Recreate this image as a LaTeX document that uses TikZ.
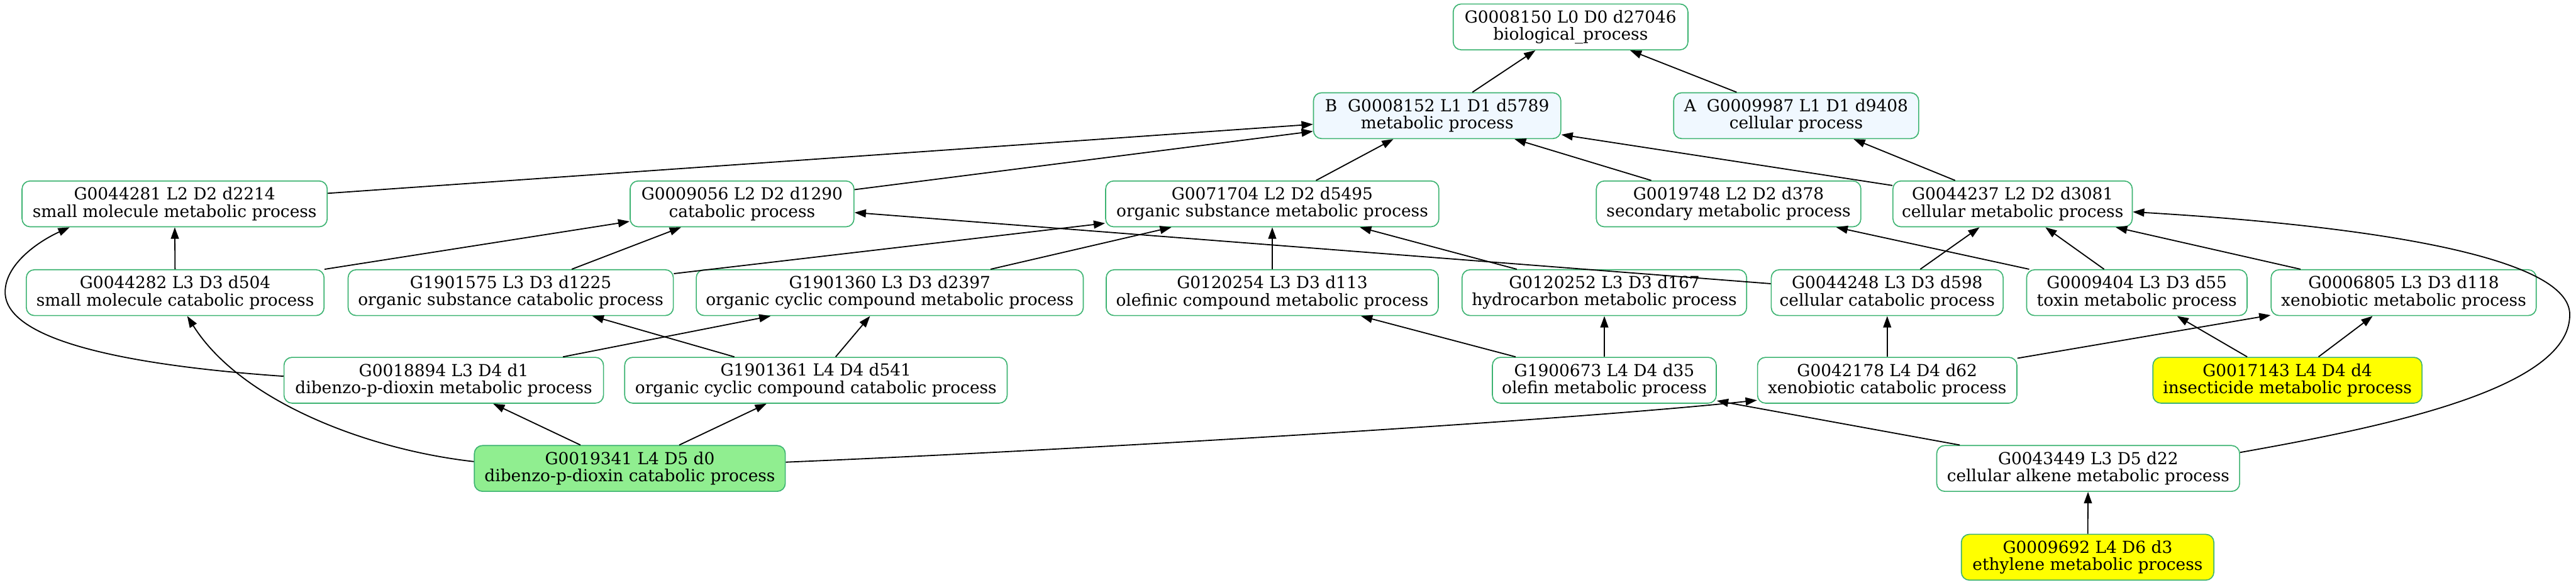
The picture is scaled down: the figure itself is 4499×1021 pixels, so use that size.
\documentclass[tikz,border=0pt]{standalone}
\usepackage{fontspec}
\newfontfamily\gofont{DejaVu Serif}
\usetikzlibrary{arrows.meta}
\definecolor{bordergreen}{HTML}{3CB371}
\definecolor{aliceblue}{HTML}{F0F8FF}
\definecolor{lgreen}{HTML}{90EE90}
\definecolor{yel}{HTML}{FFFF00}
\tikzset{
  gnode/.style={draw=bordergreen, line width=0.9pt, rounded corners=7pt,
    minimum height=40pt, inner sep=0pt, align=center, fill=white,
    font={\gofont\fontsize{14.5pt}{15pt}\selectfont}},
  edge/.style={line width=1pt, -{Triangle[length=10pt,width=7pt]}},
}
\begin{document}
\begin{tikzpicture}[x=0.5pt, y=-0.5pt]
\useasboundingbox (0,0) rectangle (4499,1021);
% row 0
\node[gnode, minimum width=205pt] (n8150) at (2743,47) {G0008150 L0 D0 d27046\\biological\_process};
% row 1
\node[gnode, minimum width=216pt, fill=aliceblue] (nB) at (2510,202) {B\ \ G0008152 L1 D1 d5789\\metabolic process};
\node[gnode, minimum width=214pt, fill=aliceblue] (nA) at (3137,202) {A\ \ G0009987 L1 D1 d9408\\cellular process};
% row 2
\node[gnode, minimum width=266.5pt] (n44281) at (305,356) {G0044281 L2 D2 d2214\\small molecule metabolic process};
\node[gnode, minimum width=195.5pt] (n9056) at (1296,356) {G0009056 L2 D2 d1290\\catabolic process};
\node[gnode, minimum width=291pt] (n71704) at (2222,356) {G0071704 L2 D2 d5495\\organic substance metabolic process};
\node[gnode, minimum width=231pt] (n19748) at (3019,356) {G0019748 L2 D2 d378\\secondary metabolic process};
\node[gnode, minimum width=209pt] (n44237) at (3515,356) {G0044237 L2 D2 d3081\\cellular metabolic process};
% row 3
\node[gnode, minimum width=260pt] (n44282) at (306,511) {G0044282 L3 D3 d504\\small molecule catabolic process};
\node[gnode, minimum width=284pt] (n1901575) at (892,511) {G1901575 L3 D3 d1225\\organic substance catabolic process};
\node[gnode, minimum width=338pt] (n1901360) at (1554,511) {G1901360 L3 D3 d2397\\organic cyclic compound metabolic process};
\node[gnode, minimum width=290pt] (n120254) at (2222,511) {G0120254 L3 D3 d113\\olefinic compound metabolic process};
\node[gnode, minimum width=248.5pt] (n120252) at (2802,511) {G0120252 L3 D3 d167\\hydrocarbon metabolic process};
\node[gnode, minimum width=202.5pt] (n44248) at (3296,511) {G0044248 L3 D3 d598\\cellular catabolic process};
\node[gnode, minimum width=192.5pt] (n9404) at (3732,511) {G0009404 L3 D3 d55\\toxin metabolic process};
\node[gnode, minimum width=231.5pt] (n6805) at (4198,511) {G0006805 L3 D3 d118\\xenobiotic metabolic process};
% row 4
\node[gnode, minimum width=279pt] (n18894) at (775,664) {G0018894 L3 D4 d1\\dibenzo-p-dioxin metabolic process};
\node[gnode, minimum width=334pt] (n1901361) at (1425,664) {G1901361 L4 D4 d541\\organic cyclic compound catabolic process};
\node[gnode, minimum width=195.5pt] (n1900673) at (2802,664) {G1900673 L4 D4 d35\\olefin metabolic process};
\node[gnode, minimum width=226.5pt] (n42178) at (3296,664) {G0042178 L4 D4 d62\\xenobiotic catabolic process};
\node[gnode, minimum width=235pt, fill=yel] (n17143) at (3995,664) {G0017143 L4 D4 d4\\insecticide metabolic process};
% row 5
\node[gnode, minimum width=271.5pt, fill=lgreen] (n19341) at (1100,818) {G0019341 L4 D5 d0\\dibenzo-p-dioxin catabolic process};
\node[gnode, minimum width=264.5pt] (n43449) at (3647,818) {G0043449 L3 D5 d22\\cellular alkene metabolic process};
% row 6
\node[gnode, minimum width=220.5pt, fill=yel] (n9692) at (3646,973) {G0009692 L4 D6 d3\\ethylene metabolic process};

% edges
\draw[edge] (nB) -- (n8150);
\draw[edge] (nA) -- (n8150);
\draw[edge] (n44281) -- (nB);
\draw[edge] (n9056) -- (nB);
\draw[edge] (n71704) -- (nB);
\draw[edge] (n19748) -- (nB);
\draw[edge] (n44237) -- (nB);
\draw[edge] (n44237) -- (nA);
\draw[edge] (n44282) -- (n44281);
\draw[edge] (n44282) -- (n9056);
\draw[edge] (n1901575) -- (n9056);
\draw[edge] (n1901575) -- (n71704);
\draw[edge] (n1901360) -- (n71704);
\draw[edge] (n120254) -- (n71704);
\draw[edge] (n120252) -- (n71704);
\draw[edge] (n44248) -- (n9056);
\draw[edge] (n44248) -- (n44237);
\draw[edge] (n9404) -- (n44237);
\draw[edge] (n9404) -- (n19748);
\draw[edge] (n6805) -- (n44237);
\draw[edge] ([yshift=14pt]n43449.east) .. controls (4160,746) and (4488,680) .. (4488,550)
   .. controls (4490,450) and (4150,395) .. ([yshift=-7pt]n44237.east);
\draw[edge] ([yshift=3.5pt]n18894.west) .. controls (250,640) and (9,600) .. (9,510)
   .. controls (9,460) and (70,420) .. ([xshift=42pt]n44281.south west);
\draw[edge] (n18894) -- (n1901360);
\draw[edge] (n1901361) -- (n1901575);
\draw[edge] (n1901361) -- (n1901360);
\draw[edge] ([yshift=6pt]n19341.west) .. controls (640,785) and (420,700) .. ([xshift=10.5pt]n44282.south);
\draw[edge] (n19341) -- (n18894);
\draw[edge] (n19341) -- (n1901361);
\draw[edge] ([yshift=5.5pt]n19341.east) .. controls (1900,785) and (2750,733) .. ([yshift=3pt]n42178.south west);
\draw[edge] (n43449) -- (n1900673);
\draw[edge] (n1900673) -- (n120254);
\draw[edge] (n1900673) -- (n120252);
\draw[edge] (n42178) -- (n44248);
\draw[edge] (n42178) -- (n6805);
\draw[edge] (n17143) -- (n9404);
\draw[edge] (n17143) -- (n6805);
\draw[edge] (n9692) -- (n43449);
\end{tikzpicture}
\end{document}
